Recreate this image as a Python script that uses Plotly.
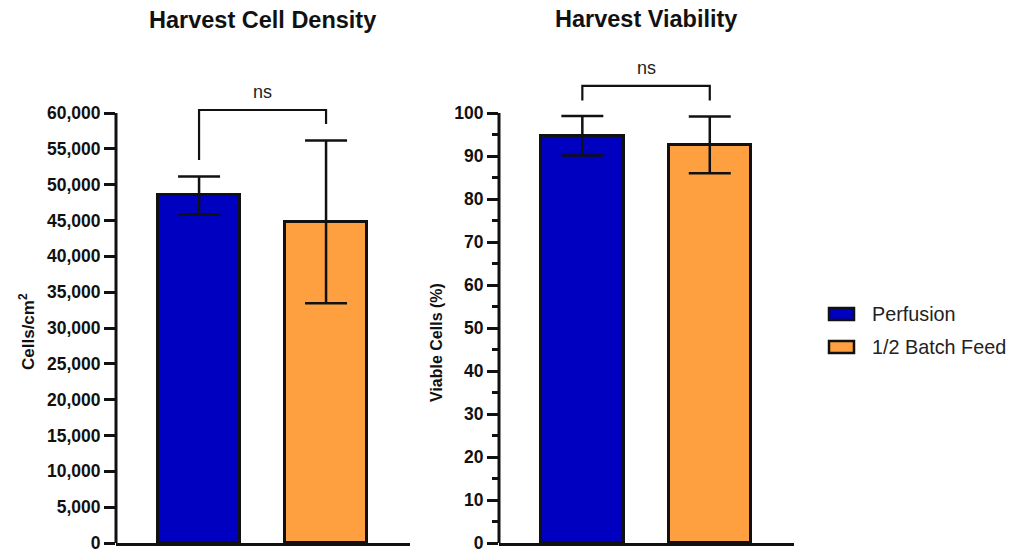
import plotly.graph_objects as go

# ---- data -------------------------------------------------------------
categories = ["Perfusion", "1/2 Batch Feed"]
density_mean = [48500, 44800]          # cells/cm2
density_sd = [2650, 11350]
viability_mean = [94.7, 92.6]          # % viable
viability_sd = [4.6, 6.6]

density_ticks = list(range(0, 60001, 5000))
viability_ticks = list(range(0, 101, 10))
viability_minor = list(range(5, 100, 10))

# ---- style ------------------------------------------------------------
W, H = 1010, 552
TOP, BOTTOM = 57, 543                  # plot-area edges in pixels
PLOT_H = BOTTOM - TOP
AXIS_SPAN = 430                        # pixels from 0 to axis maximum
colors = ["#0000C0", "#FFA040"]
ink = "#111111"
font_family = "Liberation Sans, Arial, sans-serif"
bar_w = 0.646
xs = list(range(len(categories)))


def py(pix):
    """pixel row -> paper y"""
    return (BOTTOM - pix) / PLOT_H


fig = go.Figure()

fig.add_trace(go.Bar(
    x=xs, y=density_mean, width=bar_w,
    marker=dict(color=colors, line=dict(color=ink, width=3)),
    error_y=dict(type="data", array=density_sd, thickness=2.5, width=21, color=ink),
    xaxis="x", yaxis="y", showlegend=False, hoverinfo="skip",
))
fig.add_trace(go.Bar(
    x=xs, y=viability_mean, width=bar_w,
    marker=dict(color=colors, line=dict(color=ink, width=3)),
    error_y=dict(type="data", array=viability_sd, thickness=2.5, width=21, color=ink),
    xaxis="x2", yaxis="y2", showlegend=False, hoverinfo="skip",
))

d_max = density_ticks[-1]
v_max = viability_ticks[-1]

xcommon = dict(range=[-0.654, 1.661], showline=True, linewidth=3, linecolor=ink,
               showticklabels=False, ticks="", showgrid=False, zeroline=False,
               fixedrange=True)
ycommon = dict(ticks="outside", ticklen=11, tickwidth=2.5, tickcolor=ink,
               showline=False, showgrid=False, zeroline=False,
               ticklabeloverflow="allow",
               tickfont=dict(family=font_family, size=17.5, color=ink, weight="bold"),
               fixedrange=True)

fig.update_layout(
    width=W, height=H,
    margin=dict(l=0, r=0, t=TOP, b=H - BOTTOM),
    paper_bgcolor="white", plot_bgcolor="white",
    bargap=0,
    xaxis=dict(domain=[116 / W, 410 / W], anchor="y", **xcommon),
    yaxis=dict(domain=[0, 1], anchor="x", range=[0, d_max * PLOT_H / AXIS_SPAN],
               tickvals=density_ticks, tickformat=",d", **ycommon),
    xaxis2=dict(domain=[499 / W, 794 / W], anchor="y2", **xcommon),
    yaxis2=dict(domain=[0, 1], anchor="x2", range=[0, v_max * PLOT_H / AXIS_SPAN],
                tickvals=viability_ticks,
                minor=dict(tickvals=viability_minor, ticks="outside", ticklen=6,
                           tickwidth=2.5, tickcolor=ink),
                **ycommon),
)

shapes = []
# vertical axis lines that stop at the top tick
shapes.append(dict(type="line", xref="x domain", yref="y", x0=0, x1=0, y0=0, y1=d_max,
                   line=dict(color=ink, width=3)))
shapes.append(dict(type="line", xref="x2 domain", yref="y2", x0=0, x1=0, y0=0, y1=v_max,
                   line=dict(color=ink, width=3)))


def bracket(xref, yref, top, left_end, right_end):
    line = dict(color=ink, width=2.2)
    return [
        dict(type="path", xref=xref, yref=yref, line=line,
             path=f"M {xs[0]},{left_end} L {xs[0]},{top} L {xs[1]},{top} L {xs[1]},{right_end}"),
    ]


shapes += bracket("x", "y", 60420, 53440, 58460)
shapes += bracket("x2", "y2", 106.3, 102.9, 102.9)

# legend patches
legend_rows = [314, 347]
for row, c in zip(legend_rows, colors):
    shapes.append(dict(type="rect", xref="paper", yref="paper",
                       x0=829 / W, x1=854 / W, y0=py(row + 6), y1=py(row - 6),
                       fillcolor=c, line=dict(color=ink, width=2.5)))

fig.update_layout(shapes=shapes)

ann = []
title_font = dict(family=font_family, size=23.5, color=ink, weight="bold")
ann.append(dict(text="Harvest Cell Density", xref="x", yref="paper", x=0.5, y=py(20),
                showarrow=False, font=title_font, xanchor="center", yanchor="middle"))
ann.append(dict(text="Harvest Viability", xref="x2", yref="paper", x=0.5, y=py(19),
                showarrow=False, font=title_font, xanchor="center", yanchor="middle"))

axis_font = dict(family=font_family, size=16, color=ink, weight="bold")
ann.append(dict(text="Cells/cm<sup>2</sup>", xref="paper", yref="paper", x=27 / W, y=py(332),
                textangle=-90, showarrow=False,
                font=dict(family=font_family, size=17, color=ink, weight="bold"),
                xanchor="center", yanchor="middle"))
ann.append(dict(text="Viable Cells (%)", xref="paper", yref="paper", x=436 / W, y=py(343),
                textangle=-90, showarrow=False, font=axis_font,
                xanchor="center", yanchor="middle"))

ns_font = dict(family=font_family, size=18, color="#222222")
ann.append(dict(text="ns", xref="x", yref="y", x=0.5, y=62930, showarrow=False,
                font=ns_font, xanchor="center", yanchor="middle"))
ann.append(dict(text="ns", xref="x2", yref="y2", x=0.5, y=110.5, showarrow=False,
                font=ns_font, xanchor="center", yanchor="middle"))

legend_font = dict(family=font_family, size=19.8, color="#222222")
for row, name in zip(legend_rows, categories):
    ann.append(dict(text=name, xref="paper", yref="paper", x=870 / W, y=py(row),
                    showarrow=False, font=legend_font, xanchor="left", yanchor="middle"))

fig.update_layout(annotations=ann)

fig.write_html("out.html")
